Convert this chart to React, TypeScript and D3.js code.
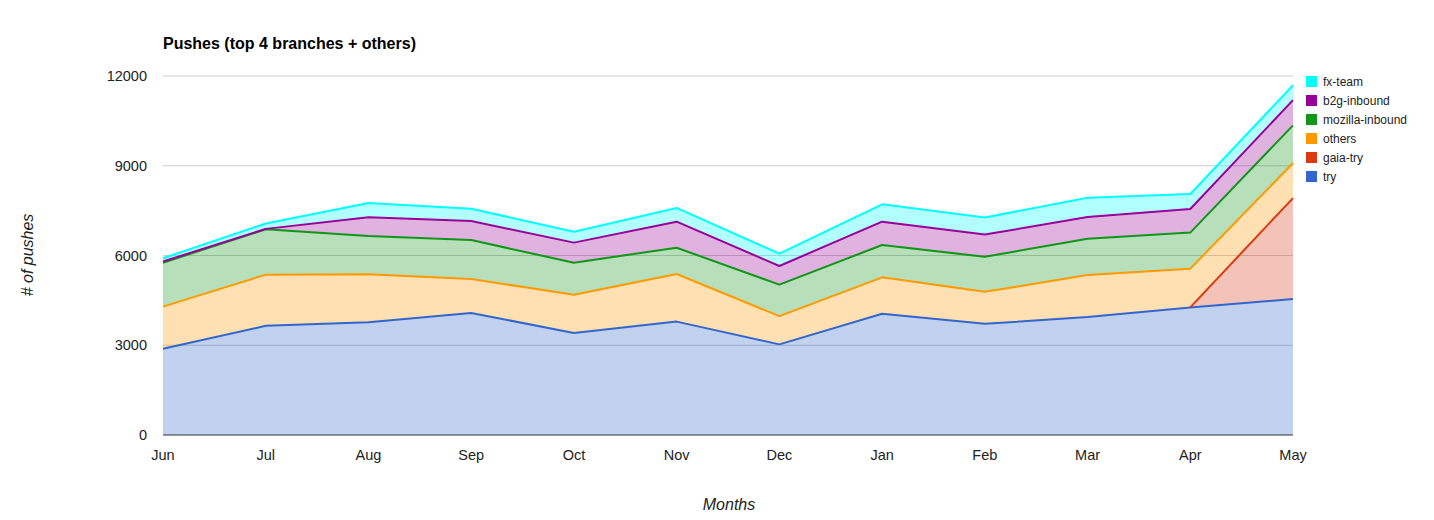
import * as d3 from "d3";
import { useEffect, useRef } from "react";

const months = ["Jun", "Jul", "Aug", "Sep", "Oct", "Nov", "Dec", "Jan", "Feb", "Mar", "Apr", "May"];

// bottom to top
const tryPushes = [2880, 3650, 3770, 4080, 3410, 3790, 3030, 4055, 3715, 3945, 4265, 4545];
const gaiaTry: (number | null)[] = [null, null, null, null, null, null, null, null, null, null, 0, 3375];
const others = [1410, 1710, 1600, 1135, 1280, 1590, 945, 1215, 1070, 1405, 1295, 1170];
const mozillaInbound = [1470, 1515, 1280, 1300, 1070, 880, 1050, 1080, 1170, 1210, 1205, 1260];
const b2gInbound = [40, 15, 625, 635, 670, 870, 625, 780, 745, 725, 790, 845];
const fxTeam = [110, 180, 480, 415, 365, 460, 410, 580, 570, 645, 500, 495];

const yTicks = [0, 3000, 6000, 9000, 12000];

const series = [
  { key: "try", values: tryPushes, color: "#3366cc" },
  { key: "gaia-try", values: gaiaTry, color: "#dc3912" },
  { key: "others", values: others, color: "#ff9900" },
  { key: "mozilla-inbound", values: mozillaInbound, color: "#109618" },
  { key: "b2g-inbound", values: b2gInbound, color: "#990099" },
  { key: "fx-team", values: fxTeam, color: "#00ffff" },
];

const FONT = "Arial, 'Liberation Sans', sans-serif";

export default function App() {
  const svgRef = useRef<SVGSVGElement | null>(null);

  useEffect(() => {
    if (!svgRef.current) return;
    const svg = d3.select(svgRef.current);
    svg.selectAll("*").remove();

    const margin = { left: 163, right: 1293, top: 76, bottom: 435 };

    const x = d3
      .scalePoint<string>()
      .domain(months)
      .range([margin.left, margin.right]);
    const y = d3.scaleLinear().domain([0, 12000]).range([margin.bottom, margin.top]);

    const rows = months.map((m, i) => {
      const r: Record<string, any> = { month: m };
      series.forEach((s) => (r[s.key] = s.values[i] ?? 0));
      return r;
    });
    const stacked = d3
      .stack<Record<string, any>>()
      .keys(series.map((s) => s.key))(rows);

    // gridlines
    svg
      .append("g")
      .selectAll("line")
      .data(yTicks.filter((t) => t > 0))
      .enter()
      .append("line")
      .attr("x1", margin.left)
      .attr("x2", margin.right)
      .attr("y1", (d) => y(d))
      .attr("y2", (d) => y(d))
      .attr("stroke", "#cccccc")
      .attr("stroke-width", 1);

    const plot = svg.append("g");
    stacked.forEach((layer, si) => {
      const s = series[si];
      const area = d3
        .area<d3.SeriesPoint<Record<string, any>>>()
        .defined((_, i) => s.values[i] !== null)
        .x((d) => x(d.data.month)!)
        .y0((d) => y(d[0]))
        .y1((d) => y(d[1]));
      plot
        .append("path")
        .attr("d", area(layer))
        .attr("fill", s.color)
        .attr("fill-opacity", 0.3)
        .attr("stroke", "none");
    });
    stacked.forEach((layer, si) => {
      const s = series[si];
      const line = d3
        .line<d3.SeriesPoint<Record<string, any>>>()
        .defined((_, i) => s.values[i] !== null)
        .x((d) => x(d.data.month)!)
        .y((d) => y(d[1]));
      plot
        .append("path")
        .attr("d", line(layer))
        .attr("fill", "none")
        .attr("stroke", s.color)
        .attr("stroke-width", 2)
        .attr("stroke-linejoin", "round");
    });

    // baseline
    svg
      .append("line")
      .attr("x1", margin.left)
      .attr("x2", margin.right)
      .attr("y1", y(0))
      .attr("y2", y(0))
      .attr("stroke", "#333333")
      .attr("stroke-width", 1);

    // y labels
    svg
      .append("g")
      .selectAll("text")
      .data(yTicks)
      .enter()
      .append("text")
      .attr("x", 147)
      .attr("y", (d) => y(d) + 5)
      .attr("text-anchor", "end")
      .attr("font-family", FONT)
      .attr("font-size", 14.5)
      .attr("fill", "#222222")
      .text((d) => d);

    // x labels
    svg
      .append("g")
      .selectAll("text")
      .data(months)
      .enter()
      .append("text")
      .attr("x", (d) => x(d)!)
      .attr("y", 460)
      .attr("text-anchor", "middle")
      .attr("font-family", FONT)
      .attr("font-size", 14.5)
      .attr("fill", "#222222")
      .text((d) => d);

    // title
    svg
      .append("text")
      .attr("x", 163)
      .attr("y", 49)
      .attr("font-family", FONT)
      .attr("font-size", 16)
      .attr("font-weight", "bold")
      .attr("fill", "#000000")
      .text("Pushes (top 4 branches + others)");

    // axis titles
    svg
      .append("text")
      .attr("x", 729)
      .attr("y", 510)
      .attr("text-anchor", "middle")
      .attr("font-family", FONT)
      .attr("font-size", 16)
      .attr("font-style", "italic")
      .attr("fill", "#222222")
      .text("Months");
    svg
      .append("text")
      .attr("transform", "translate(33,255) rotate(-90)")
      .attr("text-anchor", "middle")
      .attr("font-family", FONT)
      .attr("font-size", 16)
      .attr("font-style", "italic")
      .attr("fill", "#222222")
      .text("# of pushes");

    // legend, top series first
    const legend = svg
      .append("g")
      .selectAll("g")
      .data(series.slice().reverse())
      .enter()
      .append("g")
      .attr("transform", (_, i) => `translate(1306,${76 + i * 19})`);
    legend
      .append("rect")
      .attr("width", 11)
      .attr("height", 11)
      .attr("fill", (d) => d.color);
    legend
      .append("text")
      .attr("x", 17)
      .attr("y", 10)
      .attr("font-family", FONT)
      .attr("font-size", 12)
      .attr("fill", "#222222")
      .text((d) => d.key);
  }, []);

  return (
    <svg
      ref={svgRef}
      width={1434}
      height={520}
      style={{ position: "absolute", left: 0, top: 0, background: "#ffffff" }}
    />
  );
}
